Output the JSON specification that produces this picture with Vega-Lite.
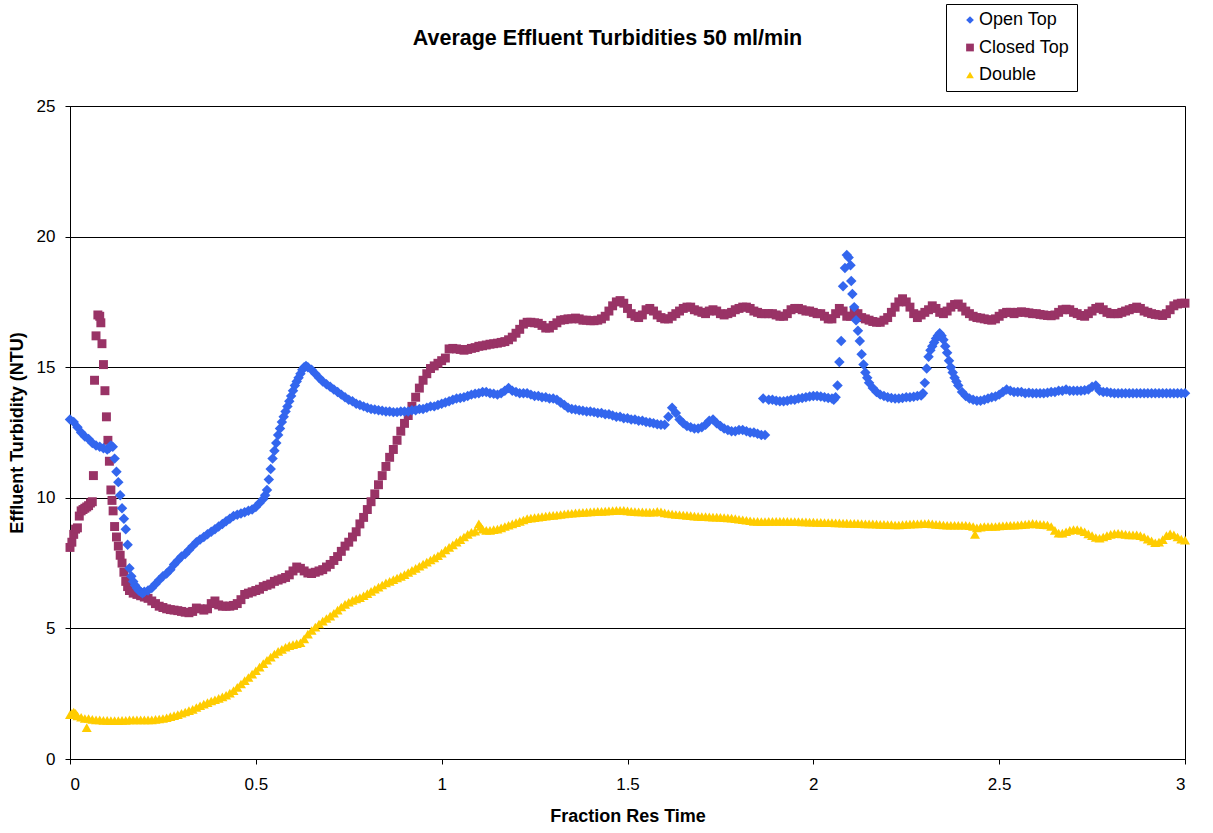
{
  "$schema": "https://vega.github.io/schema/vega-lite/v6.json",
  "width": 1115,
  "height": 653,
  "autosize": {"type": "none"},
  "padding": {"left": 70, "top": 106, "right": 28, "bottom": 74},
  "background": "white",
  "title": {
    "text": "Average Effluent Turbidities 50 ml/min",
    "font": "Liberation Sans",
    "fontSize": 21.5,
    "fontWeight": "bold",
    "color": "black",
    "anchor": "middle",
    "offset": -46,
    "dx": -20
  },
  "config": {
    "view": {"stroke": "black", "strokeWidth": 1},
    "axis": {
      "domainColor": "black",
      "tickColor": "black",
      "tickSize": 5,
      "labelFont": "Liberation Sans",
      "labelFontSize": 17,
      "labelColor": "black",
      "titleFont": "Liberation Sans",
      "titleFontSize": 18,
      "titleFontWeight": "bold",
      "titleColor": "black",
      "gridColor": "black",
      "gridOpacity": 1
    },
    "legend": {
      "orient": "none",
      "legendX": 876,
      "legendY": -102,
      "strokeColor": "black",
      "fillColor": "white",
      "padding": 7,
      "labelFont": "Liberation Sans",
      "labelFontSize": 18,
      "labelColor": "black",
      "symbolSize": 60,
      "symbolOffset": 8,
      "labelOffset": 0,
      "rowPadding": 9.5,
      "symbolStrokeWidth": 0
    }
  },
  "datasets": {
    "double": [
      {"x":0,"y":1.7},{"x":0.005,"y":1.75},{"x":0.01,"y":1.8},{"x":0.015,"y":1.75},{"x":0.02,"y":1.65},{"x":0.03,"y":1.6},{"x":0.04,"y":1.55},{"x":0.045,"y":1.2},{"x":0.05,"y":1.55},{"x":0.06,"y":1.52},{"x":0.07,"y":1.5},{"x":0.08,"y":1.5},{"x":0.09,"y":1.48},{"x":0.1,"y":1.48},{"x":0.11,"y":1.47},{"x":0.12,"y":1.47},{"x":0.13,"y":1.47},{"x":0.14,"y":1.48},{"x":0.15,"y":1.48},{"x":0.16,"y":1.5},{"x":0.17,"y":1.5},{"x":0.18,"y":1.5},{"x":0.19,"y":1.5},{"x":0.2,"y":1.5},{"x":0.21,"y":1.5},{"x":0.22,"y":1.5},{"x":0.23,"y":1.52},{"x":0.24,"y":1.53},{"x":0.25,"y":1.55},{"x":0.26,"y":1.58},{"x":0.27,"y":1.62},{"x":0.28,"y":1.66},{"x":0.29,"y":1.7},{"x":0.3,"y":1.75},{"x":0.31,"y":1.8},{"x":0.32,"y":1.85},{"x":0.33,"y":1.9},{"x":0.34,"y":1.97},{"x":0.35,"y":2.04},{"x":0.36,"y":2.1},{"x":0.37,"y":2.16},{"x":0.38,"y":2.22},{"x":0.39,"y":2.27},{"x":0.4,"y":2.32},{"x":0.41,"y":2.38},{"x":0.42,"y":2.44},{"x":0.43,"y":2.52},{"x":0.44,"y":2.62},{"x":0.45,"y":2.74},{"x":0.46,"y":2.87},{"x":0.47,"y":3.0},{"x":0.48,"y":3.12},{"x":0.49,"y":3.25},{"x":0.5,"y":3.38},{"x":0.51,"y":3.52},{"x":0.52,"y":3.65},{"x":0.53,"y":3.78},{"x":0.54,"y":3.9},{"x":0.55,"y":4.02},{"x":0.56,"y":4.12},{"x":0.57,"y":4.2},{"x":0.58,"y":4.28},{"x":0.59,"y":4.34},{"x":0.6,"y":4.38},{"x":0.61,"y":4.42},{"x":0.62,"y":4.45},{"x":0.63,"y":4.6},{"x":0.64,"y":4.78},{"x":0.65,"y":4.92},{"x":0.66,"y":5.05},{"x":0.67,"y":5.17},{"x":0.68,"y":5.28},{"x":0.69,"y":5.38},{"x":0.7,"y":5.47},{"x":0.71,"y":5.58},{"x":0.72,"y":5.7},{"x":0.73,"y":5.82},{"x":0.74,"y":5.92},{"x":0.75,"y":6.0},{"x":0.76,"y":6.07},{"x":0.77,"y":6.13},{"x":0.78,"y":6.18},{"x":0.79,"y":6.25},{"x":0.8,"y":6.33},{"x":0.81,"y":6.42},{"x":0.82,"y":6.5},{"x":0.83,"y":6.58},{"x":0.84,"y":6.66},{"x":0.85,"y":6.74},{"x":0.86,"y":6.8},{"x":0.87,"y":6.87},{"x":0.88,"y":6.93},{"x":0.89,"y":6.99},{"x":0.9,"y":7.06},{"x":0.91,"y":7.14},{"x":0.92,"y":7.22},{"x":0.93,"y":7.3},{"x":0.94,"y":7.38},{"x":0.95,"y":7.46},{"x":0.96,"y":7.54},{"x":0.97,"y":7.62},{"x":0.98,"y":7.7},{"x":0.99,"y":7.78},{"x":1.0,"y":7.88},{"x":1.01,"y":8.0},{"x":1.02,"y":8.1},{"x":1.03,"y":8.2},{"x":1.04,"y":8.3},{"x":1.05,"y":8.4},{"x":1.06,"y":8.5},{"x":1.07,"y":8.6},{"x":1.08,"y":8.68},{"x":1.09,"y":8.72},{"x":1.1,"y":9.0},{"x":1.105,"y":8.9},{"x":1.11,"y":8.8},{"x":1.12,"y":8.75},{"x":1.13,"y":8.75},{"x":1.14,"y":8.78},{"x":1.15,"y":8.8},{"x":1.16,"y":8.85},{"x":1.17,"y":8.9},{"x":1.18,"y":8.95},{"x":1.19,"y":9.0},{"x":1.2,"y":9.05},{"x":1.21,"y":9.1},{"x":1.22,"y":9.15},{"x":1.23,"y":9.2},{"x":1.24,"y":9.22},{"x":1.25,"y":9.24},{"x":1.26,"y":9.26},{"x":1.27,"y":9.28},{"x":1.28,"y":9.3},{"x":1.29,"y":9.32},{"x":1.3,"y":9.33},{"x":1.31,"y":9.34},{"x":1.32,"y":9.36},{"x":1.33,"y":9.38},{"x":1.34,"y":9.4},{"x":1.35,"y":9.41},{"x":1.36,"y":9.42},{"x":1.37,"y":9.43},{"x":1.38,"y":9.44},{"x":1.39,"y":9.45},{"x":1.4,"y":9.46},{"x":1.41,"y":9.47},{"x":1.42,"y":9.48},{"x":1.43,"y":9.48},{"x":1.44,"y":9.49},{"x":1.45,"y":9.5},{"x":1.46,"y":9.51},{"x":1.47,"y":9.52},{"x":1.48,"y":9.52},{"x":1.49,"y":9.52},{"x":1.5,"y":9.5},{"x":1.51,"y":9.48},{"x":1.52,"y":9.47},{"x":1.53,"y":9.46},{"x":1.54,"y":9.46},{"x":1.55,"y":9.45},{"x":1.56,"y":9.45},{"x":1.57,"y":9.45},{"x":1.58,"y":9.48},{"x":1.59,"y":9.46},{"x":1.6,"y":9.42},{"x":1.61,"y":9.4},{"x":1.62,"y":9.38},{"x":1.63,"y":9.36},{"x":1.64,"y":9.35},{"x":1.65,"y":9.34},{"x":1.66,"y":9.33},{"x":1.67,"y":9.32},{"x":1.68,"y":9.3},{"x":1.69,"y":9.29},{"x":1.7,"y":9.28},{"x":1.71,"y":9.28},{"x":1.72,"y":9.27},{"x":1.73,"y":9.26},{"x":1.74,"y":9.26},{"x":1.75,"y":9.25},{"x":1.76,"y":9.24},{"x":1.77,"y":9.23},{"x":1.78,"y":9.22},{"x":1.79,"y":9.2},{"x":1.8,"y":9.18},{"x":1.81,"y":9.16},{"x":1.82,"y":9.14},{"x":1.83,"y":9.12},{"x":1.84,"y":9.1},{"x":1.85,"y":9.1},{"x":1.86,"y":9.09},{"x":1.87,"y":9.09},{"x":1.88,"y":9.1},{"x":1.89,"y":9.1},{"x":1.9,"y":9.1},{"x":1.91,"y":9.1},{"x":1.92,"y":9.1},{"x":1.93,"y":9.1},{"x":1.94,"y":9.09},{"x":1.95,"y":9.09},{"x":1.96,"y":9.09},{"x":1.97,"y":9.08},{"x":1.98,"y":9.08},{"x":1.99,"y":9.07},{"x":2.0,"y":9.07},{"x":2.01,"y":9.06},{"x":2.02,"y":9.06},{"x":2.03,"y":9.05},{"x":2.04,"y":9.05},{"x":2.05,"y":9.05},{"x":2.06,"y":9.04},{"x":2.07,"y":9.04},{"x":2.08,"y":9.03},{"x":2.09,"y":9.03},{"x":2.1,"y":9.02},{"x":2.11,"y":9.02},{"x":2.12,"y":9.02},{"x":2.13,"y":9.01},{"x":2.14,"y":9.0},{"x":2.15,"y":9.0},{"x":2.16,"y":9.0},{"x":2.17,"y":8.99},{"x":2.18,"y":8.98},{"x":2.19,"y":8.98},{"x":2.2,"y":8.97},{"x":2.21,"y":8.97},{"x":2.22,"y":8.96},{"x":2.23,"y":8.96},{"x":2.24,"y":8.97},{"x":2.25,"y":8.98},{"x":2.26,"y":8.99},{"x":2.27,"y":9.0},{"x":2.28,"y":9.0},{"x":2.29,"y":9.01},{"x":2.3,"y":9.01},{"x":2.31,"y":9.02},{"x":2.32,"y":9.0},{"x":2.33,"y":8.98},{"x":2.34,"y":8.97},{"x":2.35,"y":8.96},{"x":2.36,"y":8.95},{"x":2.37,"y":8.95},{"x":2.38,"y":8.95},{"x":2.39,"y":8.95},{"x":2.4,"y":8.95},{"x":2.41,"y":8.95},{"x":2.42,"y":8.93},{"x":2.43,"y":8.9},{"x":2.435,"y":8.6},{"x":2.44,"y":8.85},{"x":2.45,"y":8.88},{"x":2.46,"y":8.9},{"x":2.47,"y":8.9},{"x":2.48,"y":8.9},{"x":2.49,"y":8.9},{"x":2.5,"y":8.92},{"x":2.51,"y":8.93},{"x":2.52,"y":8.94},{"x":2.53,"y":8.95},{"x":2.54,"y":8.95},{"x":2.55,"y":8.96},{"x":2.56,"y":8.97},{"x":2.57,"y":8.98},{"x":2.58,"y":9.0},{"x":2.59,"y":9.02},{"x":2.6,"y":9.0},{"x":2.61,"y":8.98},{"x":2.62,"y":8.97},{"x":2.63,"y":8.96},{"x":2.64,"y":8.9},{"x":2.65,"y":8.75},{"x":2.66,"y":8.65},{"x":2.67,"y":8.65},{"x":2.68,"y":8.7},{"x":2.69,"y":8.75},{"x":2.7,"y":8.78},{"x":2.71,"y":8.78},{"x":2.72,"y":8.75},{"x":2.73,"y":8.7},{"x":2.74,"y":8.62},{"x":2.75,"y":8.55},{"x":2.76,"y":8.48},{"x":2.77,"y":8.45},{"x":2.78,"y":8.5},{"x":2.79,"y":8.55},{"x":2.8,"y":8.6},{"x":2.81,"y":8.63},{"x":2.82,"y":8.64},{"x":2.83,"y":8.62},{"x":2.84,"y":8.6},{"x":2.85,"y":8.58},{"x":2.86,"y":8.58},{"x":2.87,"y":8.58},{"x":2.88,"y":8.55},{"x":2.89,"y":8.5},{"x":2.9,"y":8.42},{"x":2.91,"y":8.35},{"x":2.92,"y":8.28},{"x":2.93,"y":8.3},{"x":2.94,"y":8.4},{"x":2.95,"y":8.55},{"x":2.96,"y":8.62},{"x":2.97,"y":8.58},{"x":2.98,"y":8.5},{"x":2.99,"y":8.42},{"x":3.0,"y":8.38}
    ],
    "closed": [
      {"x":0,"y":8.1},{"x":0.005,"y":8.3},{"x":0.01,"y":8.6},{"x":0.015,"y":8.8},{"x":0.02,"y":8.85},{"x":0.025,"y":9.3},{"x":0.03,"y":9.5},{"x":0.035,"y":9.55},{"x":0.04,"y":9.6},{"x":0.045,"y":9.65},{"x":0.05,"y":9.7},{"x":0.055,"y":9.8},{"x":0.06,"y":9.85},{"x":0.063,"y":10.85},{"x":0.066,"y":14.5},{"x":0.07,"y":16.2},{"x":0.075,"y":17.0},{"x":0.08,"y":16.95},{"x":0.083,"y":16.7},{"x":0.086,"y":15.9},{"x":0.09,"y":15.1},{"x":0.094,"y":14.1},{"x":0.098,"y":13.1},{"x":0.102,"y":12.2},{"x":0.106,"y":11.4},{"x":0.11,"y":10.3},{"x":0.113,"y":9.9},{"x":0.116,"y":9.5},{"x":0.12,"y":8.9},{"x":0.125,"y":8.5},{"x":0.13,"y":8.15},{"x":0.135,"y":7.8},{"x":0.14,"y":7.5},{"x":0.145,"y":7.15},{"x":0.15,"y":6.8},{"x":0.155,"y":6.6},{"x":0.16,"y":6.45},{"x":0.17,"y":6.35},{"x":0.18,"y":6.3},{"x":0.19,"y":6.25},{"x":0.2,"y":6.2},{"x":0.21,"y":6.15},{"x":0.22,"y":6.05},{"x":0.23,"y":5.95},{"x":0.24,"y":5.85},{"x":0.25,"y":5.8},{"x":0.26,"y":5.75},{"x":0.27,"y":5.72},{"x":0.28,"y":5.7},{"x":0.29,"y":5.68},{"x":0.3,"y":5.65},{"x":0.31,"y":5.62},{"x":0.32,"y":5.6},{"x":0.33,"y":5.65},{"x":0.34,"y":5.78},{"x":0.35,"y":5.75},{"x":0.36,"y":5.7},{"x":0.37,"y":5.75},{"x":0.38,"y":5.95},{"x":0.39,"y":6.05},{"x":0.4,"y":5.9},{"x":0.41,"y":5.85},{"x":0.42,"y":5.85},{"x":0.43,"y":5.85},{"x":0.44,"y":5.88},{"x":0.45,"y":5.95},{"x":0.46,"y":6.1},{"x":0.47,"y":6.3},{"x":0.48,"y":6.35},{"x":0.49,"y":6.4},{"x":0.5,"y":6.45},{"x":0.51,"y":6.5},{"x":0.52,"y":6.6},{"x":0.53,"y":6.65},{"x":0.54,"y":6.7},{"x":0.55,"y":6.8},{"x":0.56,"y":6.85},{"x":0.57,"y":6.9},{"x":0.58,"y":6.95},{"x":0.59,"y":7.05},{"x":0.6,"y":7.2},{"x":0.61,"y":7.35},{"x":0.62,"y":7.3},{"x":0.63,"y":7.2},{"x":0.64,"y":7.12},{"x":0.65,"y":7.1},{"x":0.66,"y":7.15},{"x":0.67,"y":7.2},{"x":0.68,"y":7.25},{"x":0.69,"y":7.35},{"x":0.7,"y":7.45},{"x":0.71,"y":7.6},{"x":0.72,"y":7.75},{"x":0.73,"y":7.95},{"x":0.74,"y":8.15},{"x":0.75,"y":8.3},{"x":0.76,"y":8.5},{"x":0.77,"y":8.7},{"x":0.78,"y":9.0},{"x":0.79,"y":9.25},{"x":0.8,"y":9.55},{"x":0.81,"y":9.85},{"x":0.82,"y":10.15},{"x":0.83,"y":10.5},{"x":0.84,"y":10.85},{"x":0.85,"y":11.2},{"x":0.86,"y":11.55},{"x":0.87,"y":11.85},{"x":0.88,"y":12.2},{"x":0.89,"y":12.55},{"x":0.9,"y":12.85},{"x":0.91,"y":13.15},{"x":0.92,"y":13.5},{"x":0.93,"y":13.85},{"x":0.94,"y":14.2},{"x":0.95,"y":14.5},{"x":0.96,"y":14.75},{"x":0.97,"y":14.95},{"x":0.98,"y":15.05},{"x":0.99,"y":15.15},{"x":1.0,"y":15.25},{"x":1.01,"y":15.35},{"x":1.02,"y":15.7},{"x":1.03,"y":15.72},{"x":1.04,"y":15.7},{"x":1.05,"y":15.68},{"x":1.06,"y":15.65},{"x":1.07,"y":15.68},{"x":1.08,"y":15.72},{"x":1.09,"y":15.75},{"x":1.1,"y":15.8},{"x":1.11,"y":15.82},{"x":1.12,"y":15.85},{"x":1.13,"y":15.88},{"x":1.14,"y":15.9},{"x":1.15,"y":15.92},{"x":1.16,"y":15.95},{"x":1.17,"y":15.98},{"x":1.18,"y":16.05},{"x":1.19,"y":16.15},{"x":1.2,"y":16.3},{"x":1.21,"y":16.45},{"x":1.22,"y":16.65},{"x":1.23,"y":16.72},{"x":1.24,"y":16.72},{"x":1.25,"y":16.7},{"x":1.26,"y":16.68},{"x":1.27,"y":16.6},{"x":1.28,"y":16.5},{"x":1.29,"y":16.5},{"x":1.3,"y":16.6},{"x":1.31,"y":16.7},{"x":1.32,"y":16.8},{"x":1.33,"y":16.82},{"x":1.34,"y":16.85},{"x":1.35,"y":16.85},{"x":1.36,"y":16.88},{"x":1.37,"y":16.85},{"x":1.38,"y":16.8},{"x":1.39,"y":16.8},{"x":1.4,"y":16.78},{"x":1.41,"y":16.78},{"x":1.42,"y":16.8},{"x":1.43,"y":16.85},{"x":1.44,"y":16.95},{"x":1.45,"y":17.15},{"x":1.46,"y":17.35},{"x":1.47,"y":17.5},{"x":1.48,"y":17.55},{"x":1.49,"y":17.45},{"x":1.5,"y":17.25},{"x":1.51,"y":17.05},{"x":1.52,"y":16.95},{"x":1.53,"y":16.9},{"x":1.54,"y":17.0},{"x":1.55,"y":17.2},{"x":1.56,"y":17.25},{"x":1.57,"y":17.15},{"x":1.58,"y":17.0},{"x":1.59,"y":16.9},{"x":1.6,"y":16.85},{"x":1.61,"y":16.85},{"x":1.62,"y":16.95},{"x":1.63,"y":17.05},{"x":1.64,"y":17.15},{"x":1.65,"y":17.25},{"x":1.66,"y":17.3},{"x":1.67,"y":17.3},{"x":1.68,"y":17.2},{"x":1.69,"y":17.15},{"x":1.7,"y":17.1},{"x":1.71,"y":17.05},{"x":1.72,"y":17.15},{"x":1.73,"y":17.2},{"x":1.74,"y":17.15},{"x":1.75,"y":17.05},{"x":1.76,"y":17.0},{"x":1.77,"y":17.05},{"x":1.78,"y":17.1},{"x":1.79,"y":17.2},{"x":1.8,"y":17.25},{"x":1.81,"y":17.3},{"x":1.82,"y":17.3},{"x":1.83,"y":17.25},{"x":1.84,"y":17.15},{"x":1.85,"y":17.1},{"x":1.86,"y":17.05},{"x":1.87,"y":17.05},{"x":1.88,"y":17.05},{"x":1.89,"y":17.05},{"x":1.9,"y":17.0},{"x":1.91,"y":16.95},{"x":1.92,"y":16.95},{"x":1.93,"y":17.05},{"x":1.94,"y":17.2},{"x":1.95,"y":17.25},{"x":1.96,"y":17.25},{"x":1.97,"y":17.2},{"x":1.98,"y":17.15},{"x":1.99,"y":17.15},{"x":2.0,"y":17.1},{"x":2.01,"y":17.05},{"x":2.02,"y":17.05},{"x":2.03,"y":16.95},{"x":2.04,"y":16.85},{"x":2.05,"y":16.85},{"x":2.06,"y":17.05},{"x":2.07,"y":17.25},{"x":2.08,"y":17.15},{"x":2.09,"y":16.95},{"x":2.1,"y":16.95},{"x":2.11,"y":17.1},{"x":2.12,"y":17.05},{"x":2.13,"y":16.9},{"x":2.14,"y":16.85},{"x":2.15,"y":16.8},{"x":2.16,"y":16.75},{"x":2.17,"y":16.72},{"x":2.18,"y":16.72},{"x":2.19,"y":16.8},{"x":2.2,"y":16.9},{"x":2.21,"y":17.1},{"x":2.22,"y":17.3},{"x":2.23,"y":17.5},{"x":2.24,"y":17.62},{"x":2.25,"y":17.5},{"x":2.26,"y":17.3},{"x":2.27,"y":17.05},{"x":2.28,"y":16.9},{"x":2.29,"y":17.0},{"x":2.3,"y":17.1},{"x":2.31,"y":17.2},{"x":2.32,"y":17.35},{"x":2.33,"y":17.25},{"x":2.34,"y":17.1},{"x":2.35,"y":17.05},{"x":2.36,"y":17.15},{"x":2.37,"y":17.3},{"x":2.38,"y":17.4},{"x":2.39,"y":17.42},{"x":2.4,"y":17.3},{"x":2.41,"y":17.15},{"x":2.42,"y":17.05},{"x":2.43,"y":16.95},{"x":2.44,"y":16.9},{"x":2.45,"y":16.88},{"x":2.46,"y":16.85},{"x":2.47,"y":16.82},{"x":2.48,"y":16.8},{"x":2.49,"y":16.85},{"x":2.5,"y":16.95},{"x":2.51,"y":17.05},{"x":2.52,"y":17.1},{"x":2.53,"y":17.1},{"x":2.54,"y":17.05},{"x":2.55,"y":17.1},{"x":2.56,"y":17.12},{"x":2.57,"y":17.1},{"x":2.58,"y":17.08},{"x":2.59,"y":17.05},{"x":2.6,"y":17.05},{"x":2.61,"y":17.02},{"x":2.62,"y":17.0},{"x":2.63,"y":16.98},{"x":2.64,"y":16.97},{"x":2.65,"y":17.0},{"x":2.66,"y":17.1},{"x":2.67,"y":17.2},{"x":2.68,"y":17.22},{"x":2.69,"y":17.2},{"x":2.7,"y":17.1},{"x":2.71,"y":17.05},{"x":2.72,"y":16.98},{"x":2.73,"y":16.95},{"x":2.74,"y":17.05},{"x":2.75,"y":17.15},{"x":2.76,"y":17.25},{"x":2.77,"y":17.3},{"x":2.78,"y":17.2},{"x":2.79,"y":17.1},{"x":2.8,"y":17.05},{"x":2.81,"y":17.05},{"x":2.82,"y":17.05},{"x":2.83,"y":17.1},{"x":2.84,"y":17.15},{"x":2.85,"y":17.2},{"x":2.86,"y":17.25},{"x":2.87,"y":17.3},{"x":2.88,"y":17.25},{"x":2.89,"y":17.15},{"x":2.9,"y":17.1},{"x":2.91,"y":17.05},{"x":2.92,"y":17.02},{"x":2.93,"y":17.0},{"x":2.94,"y":16.98},{"x":2.95,"y":17.05},{"x":2.96,"y":17.2},{"x":2.97,"y":17.35},{"x":2.98,"y":17.42},{"x":2.99,"y":17.45},{"x":3.0,"y":17.45}
    ],
    "open": [
      {"x":0,"y":13.0},{"x":0.01,"y":12.9},{"x":0.02,"y":12.7},{"x":0.03,"y":12.5},{"x":0.04,"y":12.35},{"x":0.05,"y":12.25},{"x":0.06,"y":12.1},{"x":0.07,"y":12.0},{"x":0.08,"y":11.95},{"x":0.09,"y":11.9},{"x":0.1,"y":11.85},{"x":0.105,"y":11.9},{"x":0.11,"y":12.0},{"x":0.115,"y":11.95},{"x":0.12,"y":11.5},{"x":0.125,"y":11.0},{"x":0.13,"y":10.6},{"x":0.135,"y":10.1},{"x":0.14,"y":9.6},{"x":0.145,"y":9.2},{"x":0.15,"y":8.8},{"x":0.155,"y":8.2},{"x":0.16,"y":7.3},{"x":0.165,"y":7.0},{"x":0.17,"y":6.8},{"x":0.175,"y":6.65},{"x":0.18,"y":6.55},{"x":0.185,"y":6.45},{"x":0.19,"y":6.4},{"x":0.195,"y":6.35},{"x":0.2,"y":6.4},{"x":0.21,"y":6.45},{"x":0.22,"y":6.55},{"x":0.23,"y":6.7},{"x":0.24,"y":6.85},{"x":0.25,"y":7.0},{"x":0.26,"y":7.1},{"x":0.27,"y":7.25},{"x":0.28,"y":7.45},{"x":0.29,"y":7.6},{"x":0.3,"y":7.75},{"x":0.31,"y":7.85},{"x":0.32,"y":8.0},{"x":0.33,"y":8.15},{"x":0.34,"y":8.3},{"x":0.35,"y":8.4},{"x":0.36,"y":8.5},{"x":0.37,"y":8.6},{"x":0.38,"y":8.7},{"x":0.39,"y":8.8},{"x":0.4,"y":8.9},{"x":0.41,"y":9.0},{"x":0.42,"y":9.1},{"x":0.43,"y":9.2},{"x":0.44,"y":9.3},{"x":0.45,"y":9.35},{"x":0.46,"y":9.4},{"x":0.47,"y":9.45},{"x":0.48,"y":9.5},{"x":0.49,"y":9.55},{"x":0.5,"y":9.65},{"x":0.51,"y":9.8},{"x":0.52,"y":9.95},{"x":0.525,"y":10.1},{"x":0.53,"y":10.3},{"x":0.535,"y":10.7},{"x":0.54,"y":11.1},{"x":0.545,"y":11.5},{"x":0.55,"y":11.8},{"x":0.555,"y":12.1},{"x":0.56,"y":12.4},{"x":0.565,"y":12.65},{"x":0.57,"y":12.9},{"x":0.575,"y":13.1},{"x":0.58,"y":13.3},{"x":0.585,"y":13.5},{"x":0.59,"y":13.7},{"x":0.595,"y":13.9},{"x":0.6,"y":14.1},{"x":0.605,"y":14.3},{"x":0.61,"y":14.45},{"x":0.615,"y":14.6},{"x":0.62,"y":14.75},{"x":0.625,"y":14.9},{"x":0.63,"y":15.0},{"x":0.635,"y":15.05},{"x":0.64,"y":15.0},{"x":0.65,"y":14.9},{"x":0.66,"y":14.75},{"x":0.67,"y":14.6},{"x":0.68,"y":14.45},{"x":0.69,"y":14.35},{"x":0.7,"y":14.25},{"x":0.71,"y":14.15},{"x":0.72,"y":14.05},{"x":0.73,"y":13.95},{"x":0.74,"y":13.85},{"x":0.75,"y":13.75},{"x":0.76,"y":13.7},{"x":0.77,"y":13.6},{"x":0.78,"y":13.55},{"x":0.79,"y":13.5},{"x":0.8,"y":13.45},{"x":0.81,"y":13.4},{"x":0.82,"y":13.38},{"x":0.83,"y":13.35},{"x":0.84,"y":13.33},{"x":0.85,"y":13.3},{"x":0.86,"y":13.3},{"x":0.87,"y":13.28},{"x":0.88,"y":13.28},{"x":0.89,"y":13.3},{"x":0.9,"y":13.3},{"x":0.91,"y":13.3},{"x":0.92,"y":13.35},{"x":0.93,"y":13.35},{"x":0.94,"y":13.4},{"x":0.95,"y":13.4},{"x":0.96,"y":13.45},{"x":0.97,"y":13.5},{"x":0.98,"y":13.5},{"x":0.99,"y":13.55},{"x":1.0,"y":13.6},{"x":1.01,"y":13.65},{"x":1.02,"y":13.7},{"x":1.03,"y":13.75},{"x":1.04,"y":13.8},{"x":1.05,"y":13.82},{"x":1.06,"y":13.85},{"x":1.07,"y":13.9},{"x":1.08,"y":13.95},{"x":1.09,"y":13.98},{"x":1.1,"y":14.0},{"x":1.11,"y":14.05},{"x":1.12,"y":14.05},{"x":1.13,"y":14.0},{"x":1.14,"y":13.98},{"x":1.15,"y":13.95},{"x":1.16,"y":14.0},{"x":1.17,"y":14.1},{"x":1.18,"y":14.2},{"x":1.19,"y":14.1},{"x":1.2,"y":14.05},{"x":1.21,"y":14.0},{"x":1.22,"y":14.0},{"x":1.23,"y":14.0},{"x":1.24,"y":13.95},{"x":1.25,"y":13.9},{"x":1.26,"y":13.9},{"x":1.27,"y":13.85},{"x":1.28,"y":13.85},{"x":1.29,"y":13.8},{"x":1.3,"y":13.8},{"x":1.31,"y":13.75},{"x":1.32,"y":13.65},{"x":1.33,"y":13.55},{"x":1.34,"y":13.45},{"x":1.35,"y":13.4},{"x":1.36,"y":13.38},{"x":1.37,"y":13.35},{"x":1.38,"y":13.33},{"x":1.39,"y":13.3},{"x":1.4,"y":13.3},{"x":1.41,"y":13.28},{"x":1.42,"y":13.25},{"x":1.43,"y":13.25},{"x":1.44,"y":13.2},{"x":1.45,"y":13.2},{"x":1.46,"y":13.15},{"x":1.47,"y":13.1},{"x":1.48,"y":13.1},{"x":1.49,"y":13.05},{"x":1.5,"y":13.05},{"x":1.51,"y":13.0},{"x":1.52,"y":13.0},{"x":1.53,"y":12.95},{"x":1.54,"y":12.95},{"x":1.55,"y":12.9},{"x":1.56,"y":12.88},{"x":1.57,"y":12.85},{"x":1.58,"y":12.82},{"x":1.59,"y":12.8},{"x":1.6,"y":12.8},{"x":1.61,"y":13.1},{"x":1.62,"y":13.45},{"x":1.63,"y":13.25},{"x":1.64,"y":13.0},{"x":1.65,"y":12.85},{"x":1.66,"y":12.75},{"x":1.67,"y":12.7},{"x":1.68,"y":12.65},{"x":1.69,"y":12.65},{"x":1.7,"y":12.7},{"x":1.71,"y":12.8},{"x":1.72,"y":12.95},{"x":1.73,"y":13.0},{"x":1.74,"y":12.85},{"x":1.75,"y":12.75},{"x":1.76,"y":12.65},{"x":1.77,"y":12.6},{"x":1.78,"y":12.55},{"x":1.79,"y":12.55},{"x":1.8,"y":12.6},{"x":1.81,"y":12.6},{"x":1.82,"y":12.55},{"x":1.83,"y":12.5},{"x":1.84,"y":12.5},{"x":1.85,"y":12.45},{"x":1.86,"y":12.4},{"x":1.87,"y":12.4},{"x":1.865,"y":13.8},{"x":1.88,"y":13.75},{"x":1.89,"y":13.75},{"x":1.9,"y":13.72},{"x":1.91,"y":13.7},{"x":1.92,"y":13.7},{"x":1.93,"y":13.72},{"x":1.94,"y":13.75},{"x":1.95,"y":13.75},{"x":1.96,"y":13.8},{"x":1.97,"y":13.82},{"x":1.98,"y":13.85},{"x":1.99,"y":13.88},{"x":2.0,"y":13.9},{"x":2.01,"y":13.9},{"x":2.02,"y":13.88},{"x":2.03,"y":13.85},{"x":2.04,"y":13.82},{"x":2.05,"y":13.8},{"x":2.055,"y":13.75},{"x":2.06,"y":13.85},{"x":2.065,"y":14.3},{"x":2.07,"y":15.2},{"x":2.075,"y":16.0},{"x":2.08,"y":18.1},{"x":2.085,"y":18.8},{"x":2.09,"y":19.3},{"x":2.095,"y":19.2},{"x":2.1,"y":18.9},{"x":2.102,"y":18.3},{"x":2.105,"y":17.8},{"x":2.11,"y":17.3},{"x":2.115,"y":16.8},{"x":2.12,"y":16.4},{"x":2.125,"y":16.0},{"x":2.13,"y":15.5},{"x":2.135,"y":15.1},{"x":2.14,"y":14.8},{"x":2.145,"y":14.6},{"x":2.15,"y":14.4},{"x":2.16,"y":14.2},{"x":2.17,"y":14.05},{"x":2.18,"y":13.95},{"x":2.19,"y":13.9},{"x":2.2,"y":13.85},{"x":2.21,"y":13.82},{"x":2.22,"y":13.8},{"x":2.23,"y":13.8},{"x":2.24,"y":13.82},{"x":2.25,"y":13.85},{"x":2.26,"y":13.85},{"x":2.27,"y":13.87},{"x":2.28,"y":13.9},{"x":2.29,"y":13.92},{"x":2.295,"y":14.0},{"x":2.3,"y":14.4},{"x":2.305,"y":14.95},{"x":2.31,"y":15.4},{"x":2.315,"y":15.65},{"x":2.32,"y":15.8},{"x":2.325,"y":15.95},{"x":2.33,"y":16.1},{"x":2.335,"y":16.2},{"x":2.34,"y":16.3},{"x":2.345,"y":16.2},{"x":2.35,"y":16.05},{"x":2.355,"y":15.8},{"x":2.36,"y":15.55},{"x":2.365,"y":15.25},{"x":2.37,"y":15.0},{"x":2.375,"y":14.8},{"x":2.38,"y":14.6},{"x":2.385,"y":14.45},{"x":2.39,"y":14.3},{"x":2.4,"y":14.05},{"x":2.41,"y":13.9},{"x":2.42,"y":13.8},{"x":2.43,"y":13.75},{"x":2.44,"y":13.72},{"x":2.45,"y":13.72},{"x":2.46,"y":13.75},{"x":2.47,"y":13.8},{"x":2.48,"y":13.85},{"x":2.49,"y":13.88},{"x":2.5,"y":13.95},{"x":2.51,"y":14.05},{"x":2.52,"y":14.15},{"x":2.53,"y":14.1},{"x":2.54,"y":14.05},{"x":2.55,"y":14.05},{"x":2.56,"y":14.05},{"x":2.57,"y":14.0},{"x":2.58,"y":14.02},{"x":2.59,"y":14.0},{"x":2.6,"y":14.0},{"x":2.61,"y":14.0},{"x":2.62,"y":14.0},{"x":2.63,"y":14.02},{"x":2.64,"y":14.05},{"x":2.65,"y":14.05},{"x":2.66,"y":14.1},{"x":2.67,"y":14.1},{"x":2.68,"y":14.15},{"x":2.69,"y":14.1},{"x":2.7,"y":14.1},{"x":2.71,"y":14.1},{"x":2.72,"y":14.1},{"x":2.73,"y":14.12},{"x":2.74,"y":14.15},{"x":2.75,"y":14.25},{"x":2.76,"y":14.3},{"x":2.77,"y":14.1},{"x":2.78,"y":14.05},{"x":2.79,"y":14.05},{"x":2.8,"y":14.02},{"x":2.81,"y":14.0},{"x":2.82,"y":14.0},{"x":2.83,"y":14.0},{"x":2.84,"y":14.0},{"x":2.85,"y":14.0},{"x":2.86,"y":14.0},{"x":2.87,"y":14.0},{"x":2.88,"y":14.0},{"x":2.89,"y":14.0},{"x":2.9,"y":14.0},{"x":2.91,"y":14.0},{"x":2.92,"y":14.0},{"x":2.93,"y":14.0},{"x":2.94,"y":14.0},{"x":2.95,"y":14.0},{"x":2.96,"y":14.0},{"x":2.97,"y":14.0},{"x":2.98,"y":14.0},{"x":2.99,"y":14.0},{"x":3.0,"y":14.0}
    ]
  },
  "encoding": {
    "x": {
      "field": "x",
      "type": "quantitative",
      "scale": {"domain": [0, 3], "nice": false},
      "axis": {
        "title": "Fraction Res Time",
        "values": [0, 0.5, 1, 1.5, 2, 2.5, 3],
        "format": ".1~f",
        "grid": false,
        "labelPadding": 12,
        "titlePadding": 15
      }
    },
    "y": {
      "field": "y",
      "type": "quantitative",
      "scale": {"domain": [0, 25], "nice": false},
      "axis": {
        "title": "Effluent Turbidity (NTU)",
        "values": [0, 5, 10, 15, 20, 25],
        "grid": true,
        "labelPadding": 10,
        "titlePadding": 10
      }
    }
  },
  "layer": [
    {
      "data": {"name": "double"},
      "mark": {"type": "point", "filled": true, "opacity": 1, "size": 100, "strokeWidth": 0},
      "encoding": {
        "color": {
          "datum": "Double",
          "type": "nominal",
          "scale": {"domain": ["Open Top", "Closed Top", "Double"], "range": ["#3366ee", "#993366", "#ffcc00"]},
          "legend": {"title": null}
        },
        "shape": {
          "datum": "Double",
          "type": "nominal",
          "scale": {"domain": ["Open Top", "Closed Top", "Double"], "range": ["diamond", "square", "triangle-up"]},
          "legend": {"title": null}
        }
      }
    },
    {
      "data": {"name": "closed"},
      "mark": {"type": "point", "filled": true, "opacity": 1, "size": 80, "strokeWidth": 0},
      "encoding": {
        "color": {"datum": "Closed Top", "type": "nominal"},
        "shape": {"datum": "Closed Top", "type": "nominal"}
      }
    },
    {
      "data": {"name": "open"},
      "mark": {"type": "point", "filled": true, "opacity": 1, "size": 110, "strokeWidth": 0},
      "encoding": {
        "color": {"datum": "Open Top", "type": "nominal"},
        "shape": {"datum": "Open Top", "type": "nominal"}
      }
    }
  ]
}
